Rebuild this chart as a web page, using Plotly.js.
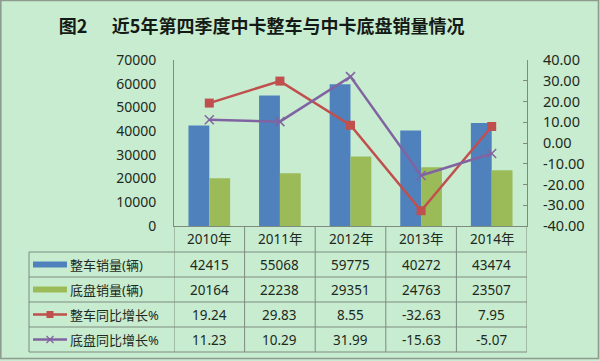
<!DOCTYPE html>
<html>
<head>
<meta charset="utf-8">
<script src="https://cdn.plot.ly/plotly-3.0.1.min.js"></script>
<style>
html,body{margin:0;padding:0;background:#C8ECD0;}
#chart{width:600px;height:361px;}
</style>
</head>
<body>
<div id="chart"></div>
<script>
const years = ['2010年','2011年','2012年','2013年','2014年'];
const vehicleSales = [42415, 55068, 59775, 40272, 43474];
const chassisSales = [20164, 22238, 29351, 24763, 23507];
const vehicleGrowth = [19.24, 29.83, 8.55, -32.63, 7.95];
const chassisGrowth = [11.23, 10.29, 31.99, -15.63, -5.07];
const seriesNames = ['整车销量(辆)', '底盘销量(辆)', '整车同比增长%', '底盘同比增长%'];
const tableRows = [vehicleSales, chassisSales, vehicleGrowth, chassisGrowth];
const leftTicks = [0, 10000, 20000, 30000, 40000, 50000, 60000, 70000];
const rightTicks = [-40, -30, -20, -10, 0, 10, 20, 30, 40];

const colors = ['#4F81BD', '#9BBB59', '#C0504D', '#8064A2'];
const bg = '#C8ECD0';
const gridC = '#7d8c7f';
const txtC = '#1e2a20';

// plot area in pixels
const L = 174, R = 527, T = 60, B = 226, W = 600, H = 361;
const PX = p => (p - L) / (R - L);
const PY = p => (B - p) / (B - T);

const traces = [
  {type: 'bar', x: years, y: vehicleSales, name: seriesNames[0], marker: {color: colors[0]}},
  {type: 'bar', x: years, y: chassisSales, name: seriesNames[1], marker: {color: colors[1]}},
  {type: 'scatter', mode: 'lines+markers', x: years, y: vehicleGrowth, yaxis: 'y2', name: seriesNames[2],
   line: {color: colors[2], width: 2.5}, marker: {symbol: 'square', size: 9, color: colors[2]}, cliponaxis: false},
  {type: 'scatter', mode: 'lines+markers', x: years, y: chassisGrowth, yaxis: 'y2', name: seriesNames[3],
   line: {color: colors[3], width: 2.5}, marker: {symbol: 'x-thin', size: 9, line: {color: colors[3], width: 1.5}}, cliponaxis: false}
];

const shapes = [];
const annotations = [];
const rowLines = [252, 277, 302, 327, 352];
const rowCenters = [264.5, 289.5, 314.5, 339.5];

// horizontal table lines
rowLines.forEach(y => shapes.push({type: 'line', xref: 'paper', yref: 'paper', x0: PX(29), x1: 1, y0: PY(y), y1: PY(y), line: {color: gridC, width: 1}}));
// vertical table lines at category borders
for (let i = 0; i <= years.length; i++) {
  shapes.push({type: 'line', xref: 'x', yref: 'paper', x0: i - 0.5, x1: i - 0.5, y0: PY(B), y1: PY(352), line: {color: gridC, width: 1}});
}
shapes.push({type: 'line', xref: 'paper', yref: 'paper', x0: PX(29), x1: PX(29), y0: PY(252), y1: PY(352), line: {color: gridC, width: 1}});

// header labels
years.forEach((yr, i) => annotations.push({xref: 'x', yref: 'paper', x: i, y: PY(239), text: yr, showarrow: false,
  font: {family: 'Noto Sans, Noto Sans CJK SC', size: 13.5, color: txtC}, xanchor: 'center', yanchor: 'middle'}));

// table cells
tableRows.forEach((row, r) => {
  row.forEach((v, i) => annotations.push({xref: 'x', yref: 'paper', x: i, y: PY(rowCenters[r]),
    text: r < 2 ? String(v) : v.toFixed(2), showarrow: false,
    font: {family: 'Noto Sans', size: 13.5, color: txtC}, xanchor: 'center', yanchor: 'middle'}));
  annotations.push({xref: 'paper', yref: 'paper', x: PX(68), y: PY(rowCenters[r]), text: seriesNames[r], showarrow: false,
    font: {family: 'Noto Sans, Noto Sans CJK SC', size: 13, color: txtC}, xanchor: 'left', yanchor: 'middle'});
});

// legend keys
shapes.push({type: 'rect', xref: 'paper', yref: 'paper', x0: PX(33), x1: PX(67), y0: PY(rowCenters[0] - 3), y1: PY(rowCenters[0] + 3), fillcolor: colors[0], line: {width: 0}});
shapes.push({type: 'rect', xref: 'paper', yref: 'paper', x0: PX(33), x1: PX(67), y0: PY(rowCenters[1] - 3), y1: PY(rowCenters[1] + 3), fillcolor: colors[1], line: {width: 0}});
shapes.push({type: 'line', xref: 'paper', yref: 'paper', x0: PX(33), x1: PX(67), y0: PY(rowCenters[2]), y1: PY(rowCenters[2]), line: {color: colors[2], width: 2.5}});
shapes.push({type: 'rect', xref: 'paper', yref: 'paper', x0: PX(46.5), x1: PX(53.5), y0: PY(rowCenters[2] - 3.5), y1: PY(rowCenters[2] + 3.5), fillcolor: colors[2], line: {width: 0}});
shapes.push({type: 'line', xref: 'paper', yref: 'paper', x0: PX(33), x1: PX(67), y0: PY(rowCenters[3]), y1: PY(rowCenters[3]), line: {color: colors[3], width: 2.5}});
shapes.push({type: 'line', xref: 'paper', yref: 'paper', x0: PX(46.5), x1: PX(53.5), y0: PY(rowCenters[3] - 3.5), y1: PY(rowCenters[3] + 3.5), line: {color: colors[3], width: 1.2}});
shapes.push({type: 'line', xref: 'paper', yref: 'paper', x0: PX(46.5), x1: PX(53.5), y0: PY(rowCenters[3] + 3.5), y1: PY(rowCenters[3] - 3.5), line: {color: colors[3], width: 1.2}});

// outer frame
shapes.push({type: 'rect', xref: 'paper', yref: 'paper', x0: PX(0.8), x1: PX(598.5), y0: PY(0.5), y1: PY(358.5), line: {color: '#8e9c90', width: 1.6}, fillcolor: 'rgba(0,0,0,0)'});

const layout = {
  width: W, height: H,
  margin: {l: L, r: W - R, t: T, b: H - B, pad: 0},
  paper_bgcolor: bg, plot_bgcolor: bg,
  showlegend: false,
  barmode: 'group', bargap: 0.41, bargroupgap: 0,
  title: {text: '图2\u00A0\u00A0\u00A0\u00A0\u00A0\u00A0近5年第四季度中卡整车与中卡底盘销量情况', xref: 'container', yref: 'container',
    x: 0.436, xanchor: 'center', y: 1 - 27 / H, yanchor: 'middle',
    font: {family: 'Noto Sans CJK SC', size: 18, weight: 'bold', color: '#141a15'}},
  xaxis: {type: 'category', range: [-0.5, 4.5], showticklabels: false, ticks: '', showgrid: false, zeroline: false,
    showline: true, linecolor: gridC, linewidth: 1},
  yaxis: {range: [0, 70000], tickvals: leftTicks, ticktext: leftTicks.map(String), showgrid: false, zeroline: false,
    showline: true, linecolor: gridC, linewidth: 1, ticks: '', ticklabelstandoff: 14,
    tickfont: {family: 'Noto Sans', size: 14, color: txtC}},
  yaxis2: {overlaying: 'y', side: 'right', range: [-40, 40], tickvals: rightTicks, ticktext: rightTicks.map(v => v.toFixed(2)),
    showgrid: false, zeroline: false, showline: true, linecolor: gridC, linewidth: 1,
    ticks: 'inside', ticklen: 4, tickcolor: gridC, ticklabelstandoff: 12,
    tickfont: {family: 'Noto Sans', size: 14.5, color: txtC}},
  shapes: shapes,
  annotations: annotations
};

Plotly.newPlot('chart', traces, layout, {staticPlot: true, displayModeBar: false});
</script>
</body>
</html>
